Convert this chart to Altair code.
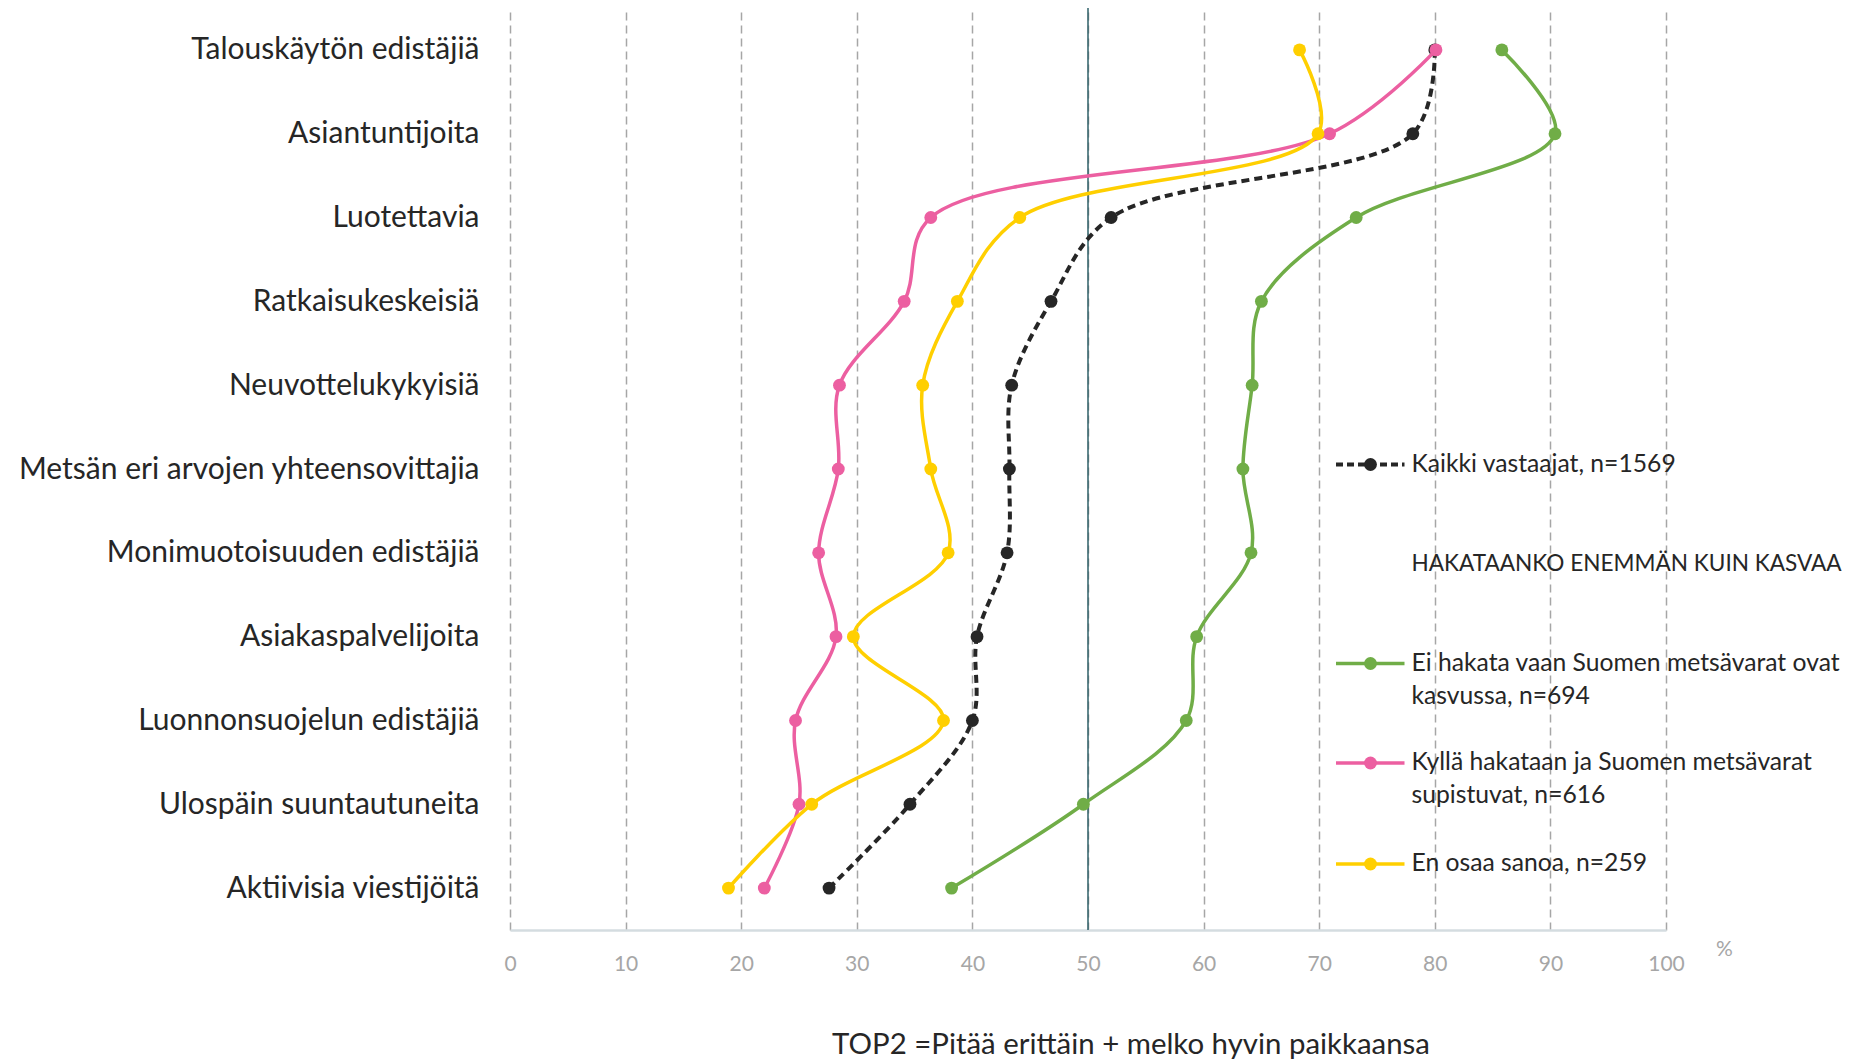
import altair as alt
import pandas as pd

categories = [
    "Talouskäytön edistäjiä",
    "Asiantuntijoita",
    "Luotettavia",
    "Ratkaisukeskeisiä",
    "Neuvottelukykyisiä",
    "Metsän eri arvojen yhteensovittajia",
    "Monimuotoisuuden edistäjiä",
    "Asiakaspalvelijoita",
    "Luonnonsuojelun edistäjiä",
    "Ulospäin suuntautuneita",
    "Aktiivisia viestijöitä",
]
kaikki = [80.0, 78.1, 52.0, 46.8, 43.4, 43.2, 43.0, 40.4, 40.0, 34.6, 27.6]
ei_hakata = [85.8, 90.4, 73.2, 65.0, 64.2, 63.4, 64.1, 59.4, 58.5, 49.6, 38.2]
kylla = [80.1, 70.9, 36.4, 34.1, 28.5, 28.4, 26.7, 28.2, 24.7, 25.0, 22.0]
en_osaa = [68.3, 69.9, 44.1, 38.7, 35.7, 36.4, 37.9, 29.7, 37.5, 26.1, 18.9]

series_keys = ["kaikki", "ei", "kylla", "eos"]
series_values = [kaikki, ei_hakata, kylla, en_osaa]
series_colors = ["#262626", "#70ad47", "#ec5fa1", "#ffcf00"]

x_ticks = list(range(0, 101, 10))
ref_line = [50]

legend_title = "HAKATAANKO ENEMMÄN KUIN KASVAA"
legend_kaikki = ["Kaikki vastaajat, n=1569"]
legend_ei = ["Ei hakata vaan Suomen metsävarat ovat", "kasvussa, n=694"]
legend_kylla = ["Kyllä hakataan ja Suomen metsävarat", "supistuvat, n=616"]
legend_eos = ["En osaa sanoa, n=259"]
footer = "TOP2 =Pitää erittäin + melko hyvin paikkaansa"
cut_note = "ostosia!"
unit_label = "%"

FONT = "Lato"
TXT = "#262626"

rows = []
for key, vals in zip(series_keys, series_values):
    for i, (c, v) in enumerate(zip(categories, vals)):
        rows.append({"series": key, "cat": c, "idx": i, "value": v})
df = pd.DataFrame(rows)

W, H = 1156, 922

x_enc = alt.X(
    "value:Q",
    scale=alt.Scale(domain=[0, 100], nice=False, zero=False),
    axis=alt.Axis(
        values=x_ticks, grid=True, gridDash=[8, 5], gridColor="#a6a6a6",
        gridWidth=1.5, domainColor="#d4dce0", domainWidth=2.5, ticks=False,
        labelFont=FONT, labelFontSize=21, labelColor="#a6a6a6",
        labelPadding=23, title=None, labelFlush=False,
    ),
)
y_enc = alt.Y(
    "cat:N",
    sort=categories,
    scale=alt.Scale(type="point", padding=0.5),
    axis=alt.Axis(
        title=None, ticks=False, domain=False, labelFont=FONT,
        labelFontSize=30, labelColor=TXT, labelPadding=31, labelLimit=800,
    ),
)

one = pd.DataFrame({"k": [0]})

layers = []
# reference line at 50
layers.append(
    alt.Chart(pd.DataFrame({"value": ref_line}))
    .mark_rule(color="#2f6069", strokeWidth=1.5)
    .encode(x=x_enc)
)

PT = 165
for key, color in zip(series_keys, series_colors):
    d = df[df.series == key]
    line_kw = dict(color=color, strokeWidth=3.5, interpolate="catmull-rom")
    if key == "kaikki":
        line_kw["strokeDash"] = [8, 5]
        line_kw["strokeWidth"] = 4
    layers.append(
        alt.Chart(d).mark_line(**line_kw).encode(x=x_enc, y=y_enc, order="idx:Q")
    )
    layers.append(
        alt.Chart(d)
        .mark_point(filled=True, color=color, size=PT, opacity=1)
        .encode(x=x_enc, y=y_enc)
    )

# custom legend
LX1, LX2, LDOT, LTX = 826, 894.5, 860.5, 901.5
LFS = 24.7


def legend_symbol(color, yy, dash=None):
    kw = dict(color=color, strokeWidth=4 if dash else 3.5)
    if dash:
        kw["strokeDash"] = dash
    r = alt.Chart(one).mark_rule(**kw).encode(
        x=alt.value(LX1), x2=alt.value(LX2), y=alt.value(yy)
    )
    p = alt.Chart(one).mark_point(filled=True, color=color, size=PT, opacity=1).encode(
        x=alt.value(LDOT), y=alt.value(yy)
    )
    return [r, p]


def txt(text, xx, yy, size=LFS, color=TXT, align="left", baseline="middle"):
    return alt.Chart(one).mark_text(
        font=FONT, fontSize=size, color=color, align=align, baseline=baseline
    ).encode(x=alt.value(xx), y=alt.value(yy), text=alt.value(text))


layers += legend_symbol(series_colors[0], 456.5, dash=[7, 4])
layers.append(txt(legend_kaikki[0], LTX, 456.5))
layers.append(txt(legend_title, LTX, 556, size=22.6))
layers += legend_symbol(series_colors[1], 655.5)
layers.append(txt(legend_ei[0], LTX, 655.5))
layers.append(txt(legend_ei[1], LTX, 688.5))
layers += legend_symbol(series_colors[2], 755)
layers.append(txt(legend_kylla[0], LTX, 755))
layers.append(txt(legend_kylla[1], LTX, 788))
layers += legend_symbol(series_colors[3], 856)
layers.append(txt(legend_eos[0], LTX, 856))

# unit, footer, cut-off note
layers.append(txt(unit_label, 1214.5, 942, size=21, color="#a6a6a6", align="center"))
layers.append(txt(footer, 621, 1037, size=29.4, align="center"))
layers.append(txt(cut_note, -497, 1075, size=30, baseline="alphabetic"))

chart = (
    alt.layer(*layers)
    .properties(
        width=W,
        height=H,
        autosize=alt.AutoSizeParams(type="none"),
        padding={"left": 502, "top": 0, "right": 184, "bottom": 160},
        background="white",
    )
    .configure_view(stroke=None)
)

chart.save("out.html", embed_options={"renderer": "svg", "actions": False})
